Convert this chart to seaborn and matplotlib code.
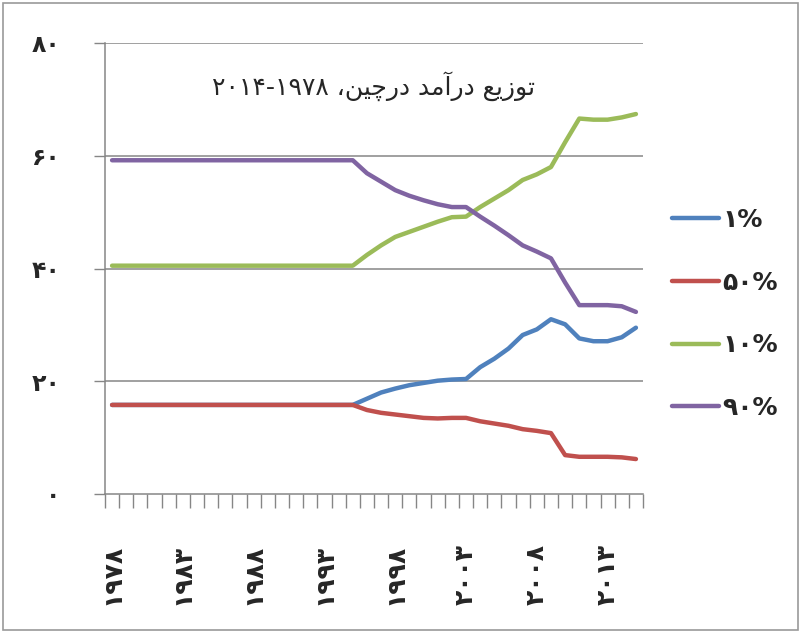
import numpy as np
import pandas as pd
import matplotlib
matplotlib.use("Agg")
import matplotlib.pyplot as plt
from matplotlib.patches import Rectangle
from matplotlib.ticker import FixedLocator
import seaborn as sns

# ==========================
# data
# ==========================
years = list(range(1978, 2016))
flat = 18

top1 = [15.8] * flat + [16.9, 18.0, 18.7, 19.3, 19.7, 20.1, 20.3, 20.4, 22.5, 24.0,
                        25.8, 28.2, 29.2, 31.0, 30.1, 27.6, 27.1, 27.1, 27.8, 29.5]
bottom50 = [15.8] * flat + [14.9, 14.4, 14.1, 13.8, 13.5, 13.4, 13.5, 13.5, 12.9, 12.5,
                            12.1, 11.5, 11.2, 10.8, 6.9, 6.6, 6.6, 6.6, 6.5, 6.2]
top10 = [40.5] * flat + [42.4, 44.1, 45.6, 46.5, 47.4, 48.3, 49.1, 49.2, 50.9, 52.4,
                         53.9, 55.7, 56.7, 58.0, 62.4, 66.6, 66.4, 66.4, 66.8, 67.4]
bottom90 = [59.2] * flat + [56.9, 55.4, 53.9, 52.9, 52.1, 51.4, 50.9, 50.9, 49.2, 47.6,
                            45.9, 44.1, 43.0, 41.8, 37.5, 33.5, 33.5, 33.5, 33.3, 32.3]

series_labels = ["۱%", "۵۰%", "۱۰%", "۹۰%"]
series_colors = ["#4F81BD", "#C0504D", "#9BBB59", "#8064A2"]

y_ticks = [0, 20, 40, 60, 80]
y_ticklabels = ["۰", "۲۰", "۴۰", "۶۰", "۸۰"]
x_label_years = [1978, 1983, 1988, 1993, 1998, 2003, 2008, 2013]
x_ticklabels = ["۱۹۷۸", "۱۹۸۳", "۱۹۸۸", "۱۹۹۳", "۱۹۹۸", "۲۰۰۳", "۲۰۰۸", "۲۰۱۳"]

title = "توزیع درآمد درچین، ۱۹۷۸-۲۰۱۴"

df = pd.DataFrame({"year": years * 4,
                   "value": top1 + bottom50 + top10 + bottom90,
                   "group": sum([[s] * len(years) for s in series_labels], [])})

# ==========================
# tiny Persian shaper (matplotlib has no shaping)
# ==========================
FORMS = {
    "ت": ("\uFE95", "\uFE96", "\uFE97", "\uFE98"),
    "و": ("\uFEED", "\uFEEE", None, None),
    "ز": ("\uFEAF", "\uFEB0", None, None),
    "ی": ("\uFBFC", "\uFBFD", "\uFEF3", "\uFEF4"),
    "ع": ("\uFEC9", "\uFECA", "\uFECB", "\uFECC"),
    "د": ("\uFEA9", "\uFEAA", None, None),
    "ر": ("\uFEAD", "\uFEAE", None, None),
    "آ": ("\uFE81", "\uFE82", None, None),
    "م": ("\uFEE1", "\uFEE2", "\uFEE3", "\uFEE4"),
    "چ": ("\uFB7A", "\uFB7B", "\uFB7C", "\uFB7D"),
    "ن": ("\uFEE5", "\uFEE6", "\uFEE7", "\uFEE8"),
}


def shape_rtl(s):
    out = []
    for i, ch in enumerate(s):
        if ch not in FORMS:
            out.append(ch)
            continue
        prev = s[i - 1] if i > 0 else ""
        nxt = s[i + 1] if i + 1 < len(s) else ""
        p = prev in FORMS and FORMS[prev][2] is not None
        n = FORMS[ch][2] is not None and nxt in FORMS
        iso, fin, ini, med = FORMS[ch]
        out.append(med if p and n else fin if p else ini if n else iso)
    vis = "".join(reversed(out))
    # digit runs keep left-to-right order
    res, run = [], []
    for ch in vis:
        if "۰" <= ch <= "۹":
            run.append(ch)
        else:
            res.extend(reversed(run))
            run = []
            res.append(ch)
    res.extend(reversed(run))
    return "".join(res)


# ==========================
# plot
# ==========================
sns.set_style("white")
plt.rcParams["font.family"] = ["DejaVu Sans"]

fig = plt.figure(figsize=(8.03, 6.33), dpi=100)
ax = fig.add_axes([105 / 803, 1 - 494 / 633, 538 / 803, 451 / 633])

sns.lineplot(data=df, x="year", y="value", hue="group", hue_order=series_labels,
             palette=series_colors, linewidth=3.2, ax=ax, legend=False)

grid_c = "#868686"
ax.set_xlim(1977.5, 2015.5)
ax.set_ylim(0, 80)
for v in y_ticks[1:]:
    ax.axhline(v, color=grid_c, linewidth=1.1, zorder=0)

ax.set_yticks(y_ticks)
ax.set_yticklabels(y_ticklabels, fontsize=17, fontweight="bold")
ax.tick_params(axis="y", length=8, width=1, color=grid_c, direction="out", pad=24, left=True)

ax.set_xticks(x_label_years)
ax.set_xticklabels(x_ticklabels, rotation=90, fontsize=18, fontweight="bold")
ax.tick_params(axis="x", which="major", length=0, pad=36)
ax.xaxis.set_minor_locator(FixedLocator(np.arange(1977.5, 2016, 1.0)))
ax.tick_params(axis="x", which="minor", length=10, width=1, color=grid_c,
               direction="out", bottom=True)

for side in ["top", "right"]:
    ax.spines[side].set_visible(False)
for side in ["left", "bottom"]:
    ax.spines[side].set_color(grid_c)
    ax.spines[side].set_linewidth(1.1)
ax.set_xlabel("")
ax.set_ylabel("")

ax.text(0.5, (494 - 86) / 451, shape_rtl(title), transform=ax.transAxes,
        ha="center", va="center", fontsize=18)

handles = [plt.Line2D([], [], color=c, linewidth=3.2) for c in series_colors]
leg = fig.legend(handles, series_labels, loc="center left",
                 bbox_to_anchor=(672 / 803, 1 - 314 / 633), frameon=False,
                 prop={"size": 18, "weight": "bold"}, handlelength=1.9,
                 handletextpad=0.1, labelspacing=1.55, borderpad=0, borderaxespad=0)

fig.patches.append(Rectangle((0.004, 0.005), 0.99, 0.99, transform=fig.transFigure,
                             fill=False, edgecolor="#9a9a9a", linewidth=1.2))

plt.savefig("out.png", dpi=100)
